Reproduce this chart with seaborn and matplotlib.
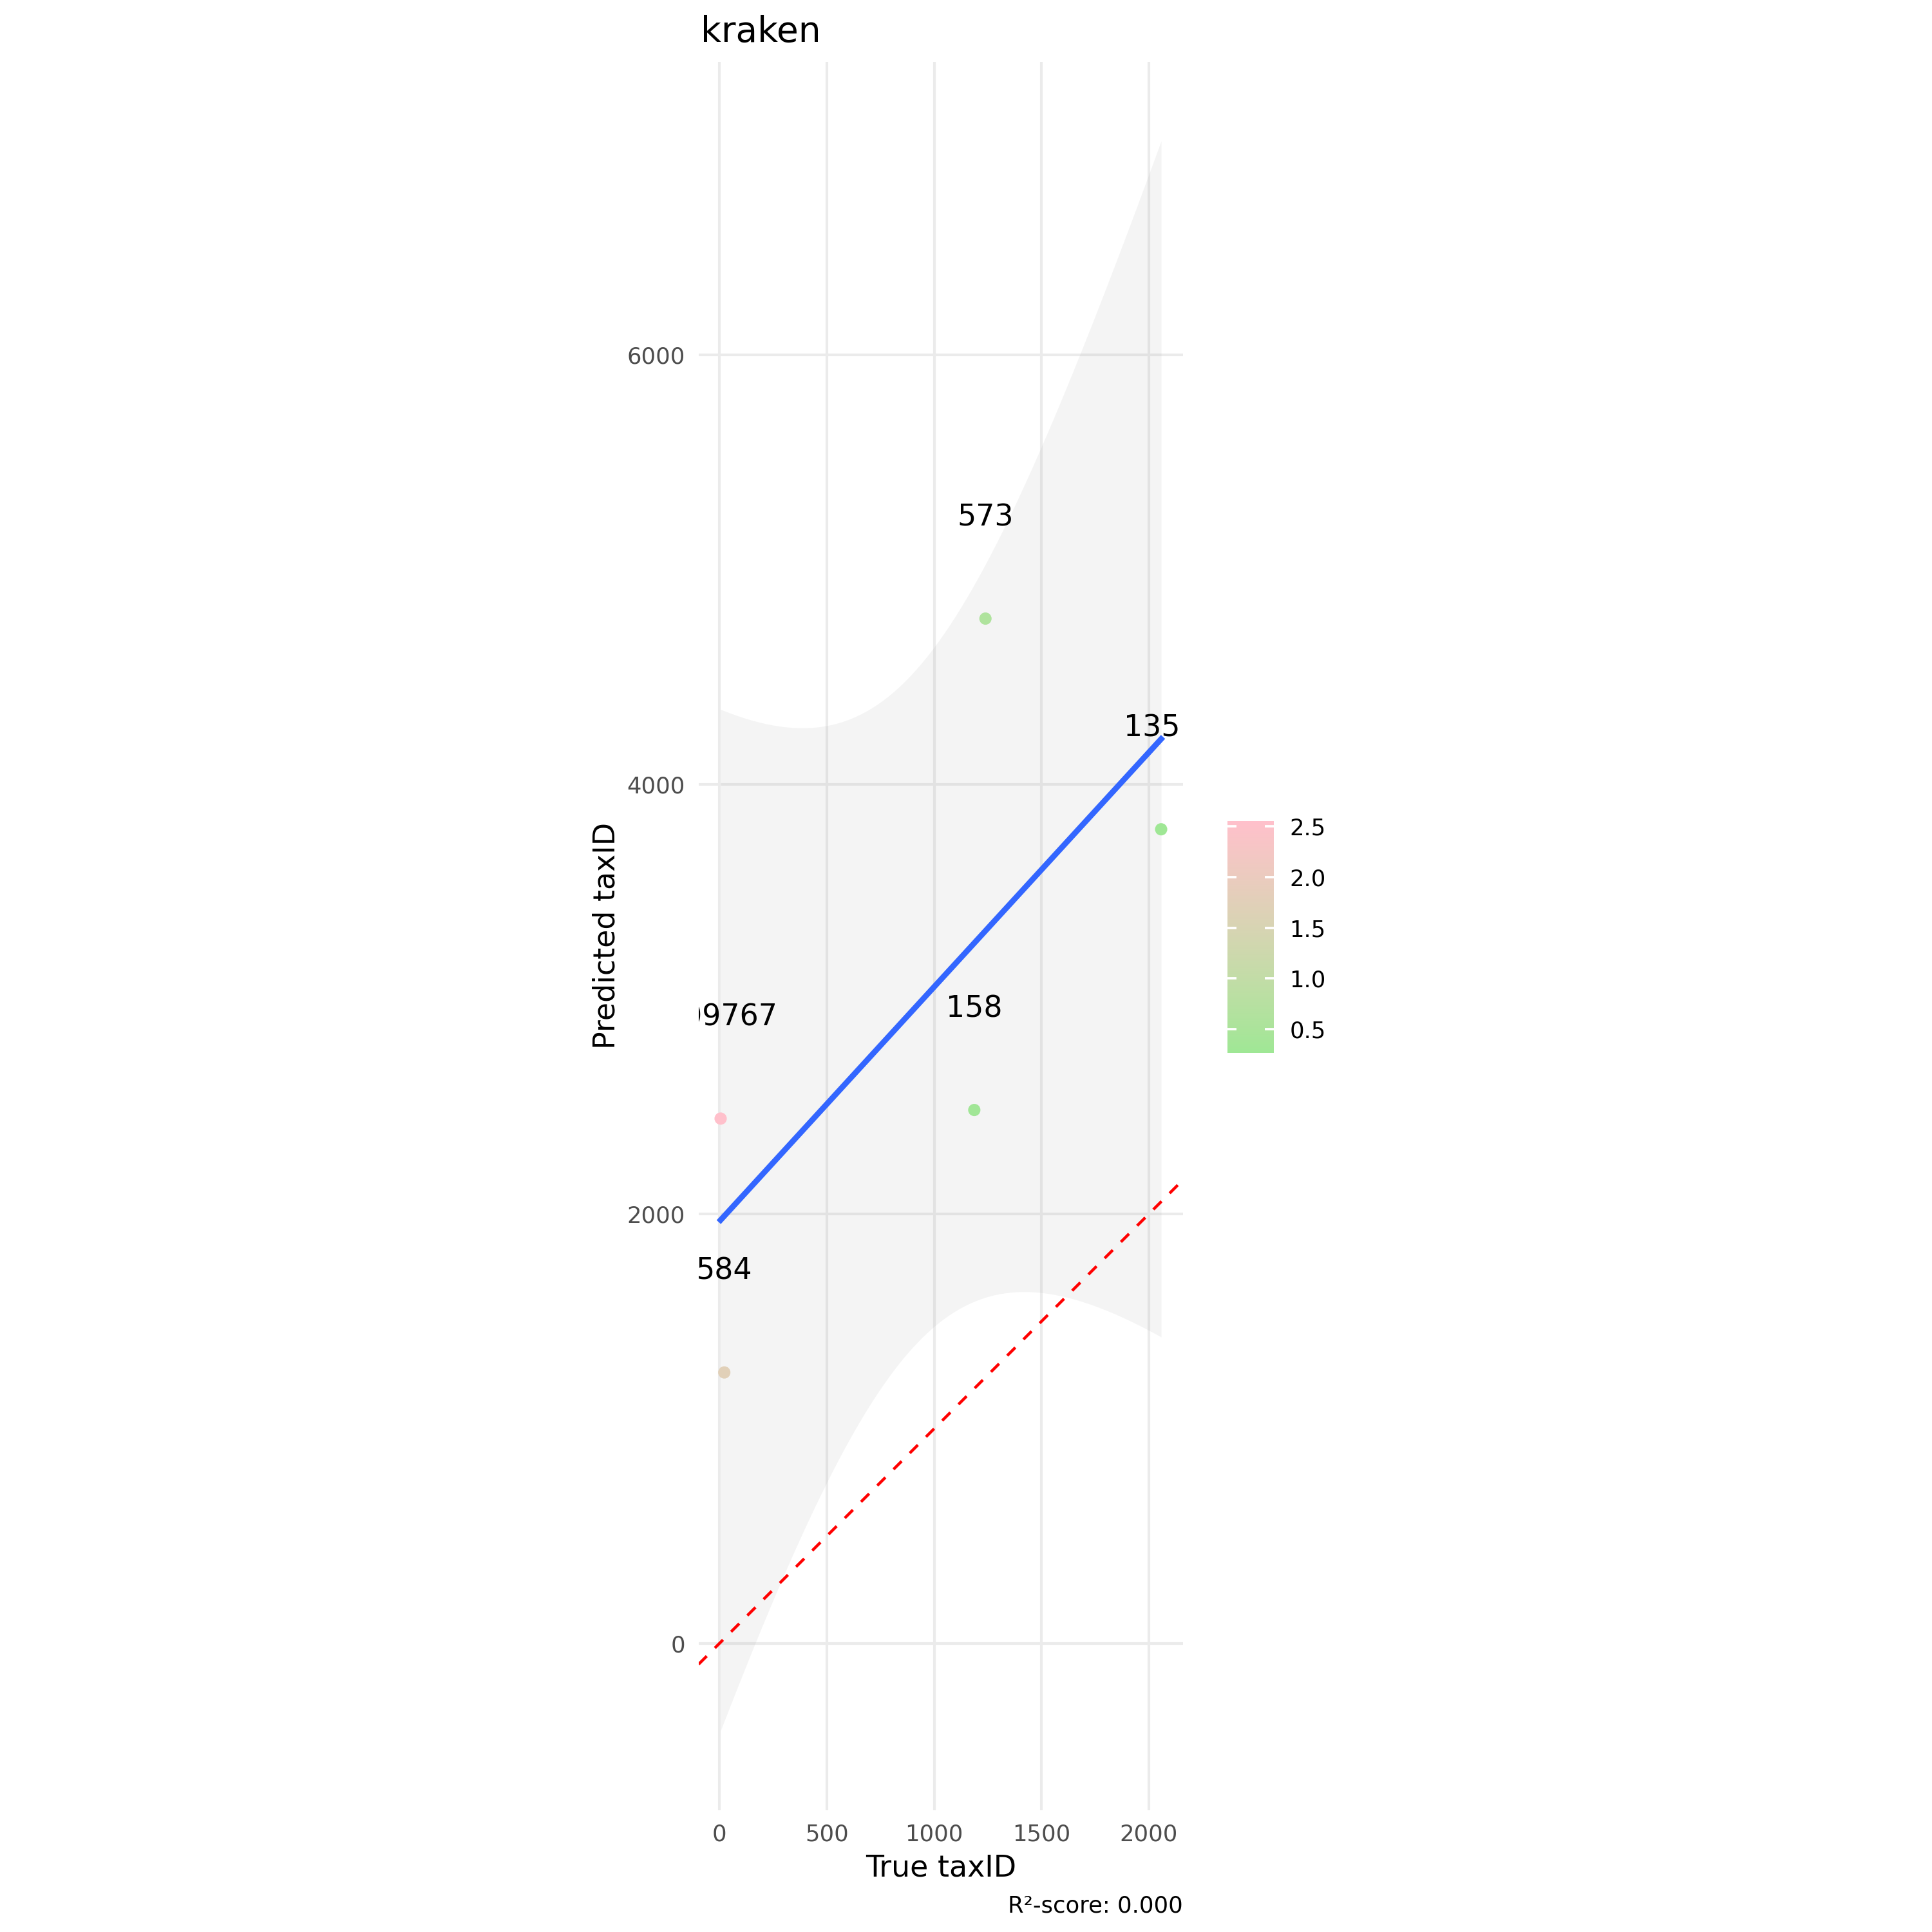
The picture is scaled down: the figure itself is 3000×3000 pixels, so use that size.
import numpy as np
import pandas as pd
import matplotlib
matplotlib.use("Agg")
import matplotlib.pyplot as plt
import seaborn as sns
from matplotlib.colors import ListedColormap, Normalize, to_rgb
from matplotlib.cm import ScalarMappable

# ---------------- data ----------------
true_taxid = [6, 23, 1187, 1239, 2057]
pred_taxid = [2444, 1262, 2484, 4772, 3791]
error_value = [2.551, 1.74, 0.32, 0.587, 0.267]
point_labels = ["109767", "584", "158", "573", "1351"]
x_ticks = [0, 500, 1000, 1500, 2000]
y_ticks = [0, 2000, 4000, 6000]
cbar_ticks = [0.5, 1.0, 1.5, 2.0, 2.5]
title_text = "kraken"
x_title = "True taxID"
y_title = "Predicted taxID"
caption_text = "R\u00b2-score: 0.000"

df = pd.DataFrame({"true": true_taxid, "pred": pred_taxid,
                   "err": error_value, "label": point_labels})

# ---------------- colour scale: Lab interpolation low->high ----------------
def _srgb_to_lab(rgb):
    c = np.array(rgb, dtype=float)
    lin = np.where(c <= 0.04045, c / 12.92, ((c + 0.055) / 1.055) ** 2.4)
    M = np.array([[0.4124564, 0.3575761, 0.1804375],
                  [0.2126729, 0.7151522, 0.0721750],
                  [0.0193339, 0.1191920, 0.9503041]])
    xyz = M @ lin
    wp = np.array([0.95047, 1.0, 1.08883])
    t = xyz / wp
    f = np.where(t > (6 / 29) ** 3, np.cbrt(t), t / (3 * (6 / 29) ** 2) + 4 / 29)
    return np.array([116 * f[1] - 16, 500 * (f[0] - f[1]), 200 * (f[1] - f[2])])

def _lab_to_srgb(lab):
    L, a, b = lab
    fy = (L + 16) / 116
    fx = fy + a / 500
    fz = fy - b / 200
    d = 6 / 29
    def finv(f):
        return f ** 3 if f > d else 3 * d * d * (f - 4 / 29)
    wp = np.array([0.95047, 1.0, 1.08883])
    xyz = np.array([finv(fx), finv(fy), finv(fz)]) * wp
    Minv = np.array([[3.2404542, -1.5371385, -0.4985314],
                     [-0.9692660, 1.8760108, 0.0415560],
                     [0.0556434, -0.2040259, 1.0572252]])
    lin = np.clip(Minv @ xyz, 0, 1)
    c = np.where(lin <= 0.0031308, 12.92 * lin, 1.055 * lin ** (1 / 2.4) - 0.055)
    return np.clip(c, 0, 1)

low_col = "#9FE795"
high_col = "#FFC0CB"
lab_lo = _srgb_to_lab(to_rgb(low_col))
lab_hi = _srgb_to_lab(to_rgb(high_col))
cmap = ListedColormap([_lab_to_srgb(lab_lo + (lab_hi - lab_lo) * t)
                       for t in np.linspace(0, 1, 256)])
norm = Normalize(vmin=min(error_value), vmax=max(error_value))

# ---------------- linear model + 95% band (like geom_smooth(method="lm")) ----
x = np.asarray(true_taxid, float)
y = np.asarray(pred_taxid, float)
n = len(x)
slope, intercept = np.polyfit(x, y, 1)
resid = y - (intercept + slope * x)
s_err = np.sqrt(np.sum(resid ** 2) / (n - 2))
sxx = np.sum((x - x.mean()) ** 2)
t_crit = 3.182446  # 97.5% t quantile, df = n - 2 = 3
xs = np.linspace(x.min(), x.max(), 80)
fit = intercept + slope * xs
se = s_err * np.sqrt(1 / n + (xs - x.mean()) ** 2 / sxx)
band_lo = fit - t_crit * se
band_hi = fit + t_crit * se

# axis limits with ggplot-like 5% expansion
xr = (x.min(), x.max())
yr = (min(band_lo.min(), y.min()), max(band_hi.max(), y.max()))
xlim = (xr[0] - 0.05 * (xr[1] - xr[0]), xr[1] + 0.05 * (xr[1] - xr[0]))
ylim = (yr[0] - 0.05 * (yr[1] - yr[0]), yr[1] + 0.05 * (yr[1] - yr[0]))

# panel placement (equal aspect, pixel geometry of a 3000 px canvas)
W = 3000.0
px_per_unit = 0.3335
x0_px, y0_px = 1117.0, 2552.0
left_px = x0_px + xlim[0] * px_per_unit
right_px = x0_px + xlim[1] * px_per_unit
top_px = y0_px - ylim[1] * px_per_unit
bottom_px = y0_px - ylim[0] * px_per_unit

# ---------------- figure ----------------
fig = plt.figure(figsize=(10, 10), dpi=300)
fig.patch.set_facecolor("white")
ax = fig.add_axes([left_px / W, 1 - bottom_px / W,
                   (right_px - left_px) / W, (bottom_px - top_px) / W])
ax.set_facecolor("white")
for s in ax.spines.values():
    s.set_visible(False)
ax.set_axisbelow(True)
ax.grid(True, color="#EBEBEB", lw=1.0, zorder=0)

ax.fill_between(xs, band_lo, band_hi, color="#999999", alpha=0.1, lw=0, zorder=1)

sns.scatterplot(data=df, x="true", y="pred", hue="err", palette=cmap,
                hue_norm=norm, s=21, linewidth=0, legend=False, ax=ax, zorder=3)
sns.regplot(data=df, x="true", y="pred", scatter=False, ci=None,
            truncate=True, color="#3366FF", line_kws=dict(lw=2.13, zorder=4),
            ax=ax)
ax.axline((0, 0), slope=1, color="red", lw=1.07, linestyle=(0, (4, 4)), zorder=5)

label_offset = 470
for xi, yi, lab in zip(true_taxid, pred_taxid, point_labels):
    ax.text(xi, yi + label_offset, lab, ha="center", va="center",
            fontsize=11, color="black", clip_on=True, zorder=6)

ax.set_xlim(*xlim)
ax.set_ylim(*ylim)
ax.set_xticks(x_ticks)
ax.set_yticks(y_ticks)
ax.set_xlabel("")
ax.set_ylabel("")
ax.tick_params(length=0, labelsize=8.5, labelcolor="#4D4D4D", pad=5.0)

# titles
fig.text(1088 / W, 1 - 65 / W, title_text, fontsize=13.2,
         ha="left", va="baseline", color="black")
fig.text((left_px + right_px) / 2 / W, 1 - 2913 / W, x_title, fontsize=11,
         ha="center", va="baseline", color="black")
fig.text(942 / W, 1 - (top_px + bottom_px) / 2 / W, y_title, fontsize=11,
         rotation=90, ha="center", va="center", color="black")
fig.text(right_px / W, 1 - 2970 / W, caption_text, fontsize=8.5,
         ha="right", va="baseline", color="black")

# colour bar
cax = fig.add_axes([1906 / W, 1 - 1635 / W, 72 / W, 360 / W])
cb = fig.colorbar(ScalarMappable(norm=norm, cmap=cmap), cax=cax)
cb.outline.set_visible(False)
cb.set_ticks(cbar_ticks)
cb.ax.minorticks_off()
cax.tick_params(axis="y", which="major", left=True, right=True,
                labelleft=False, labelright=True, direction="in",
                length=3.4, width=0.9, color="white", labelsize=8.5,
                labelcolor="black", pad=5.8)

fig.savefig("out.png", dpi=300, facecolor="white")
